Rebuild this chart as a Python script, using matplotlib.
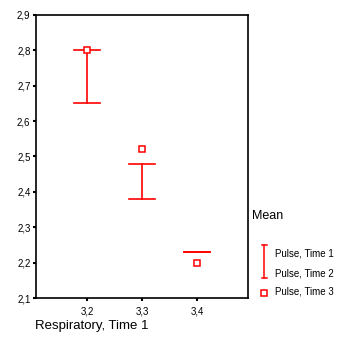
import matplotlib
matplotlib.use("Agg")
import matplotlib.pyplot as plt
from matplotlib.lines import Line2D
from matplotlib.ticker import FuncFormatter

plt.rcParams['font.family'] = ['Liberation Sans', 'DejaVu Sans']

# data
resp = [3.2, 3.3, 3.4]
pulse1 = [2.80, 2.48, 2.23]
pulse2 = [2.65, 2.38, 2.23]
pulse3 = [2.80, 2.52, 2.20]
xticks = [3.2, 3.3, 3.4]
yticks = [2.1, 2.2, 2.3, 2.4, 2.5, 2.6, 2.7, 2.8, 2.9]

W, H = 363, 357
fig = plt.figure(figsize=(W / 100, H / 100), dpi=100)
ax = fig.add_axes([36 / W, 1 - 298 / H, 212 / W, 283 / H])

red = '#ff0000'
capw = 0.0235  # half width of caps in data units
for x, hi, lo in zip(resp, pulse1, pulse2):
    ax.plot([x, x], [lo, hi], color=red, lw=1.2)
    ax.plot([x - capw, x + capw], [hi, hi], color=red, lw=1.2)
    ax.plot([x - capw, x + capw], [lo, lo], color=red, lw=1.2)
ax.plot(resp, pulse3, ls='none', marker='s', ms=5, mfc='white', mec=red, mew=1.1, zorder=3)

ax.set_xlim(3.107, 3.493)
ax.set_ylim(2.1, 2.9)
ax.set_xticks(xticks)
ax.set_yticks(yticks)
fmt = FuncFormatter(lambda v, p: ('%.1f' % v).replace('.', ','))
ax.xaxis.set_major_formatter(fmt)
ax.yaxis.set_major_formatter(fmt)
ax.tick_params(labelsize=7, length=2, width=1.5, pad=2)
ax.tick_params(axis='x', pad=4)
for s in ax.spines.values():
    s.set_linewidth(1.2)

fig.text(35 / W, 1 - 326 / H, 'Respiratory, Time 1', fontsize=9.5, va='center', ha='left')

# legend
fig.text(252 / W, 1 - 216 / H, 'Mean', fontsize=9, va='center', ha='left')
lx = 264 / W
fig.add_artist(Line2D([lx, lx], [1 - 245 / H, 1 - 278 / H], color=red, lw=1.1, transform=fig.transFigure))
for yy in (245, 278):
    fig.add_artist(Line2D([262 / W, 266.5 / W], [1 - yy / H] * 2, color=red, lw=1.1, transform=fig.transFigure))
fig.add_artist(Line2D([lx], [1 - 293 / H], ls='none', marker='s', ms=5, mfc='white', mec=red, mew=1.1,
                      transform=fig.transFigure))
for yy, t in zip((253, 273, 291), ('Pulse, Time 1', 'Pulse, Time 2', 'Pulse, Time 3')):
    fig.text(275 / W, 1 - yy / H, t, fontsize=7, va='center', ha='left')

fig.savefig('out.png', dpi=100)
